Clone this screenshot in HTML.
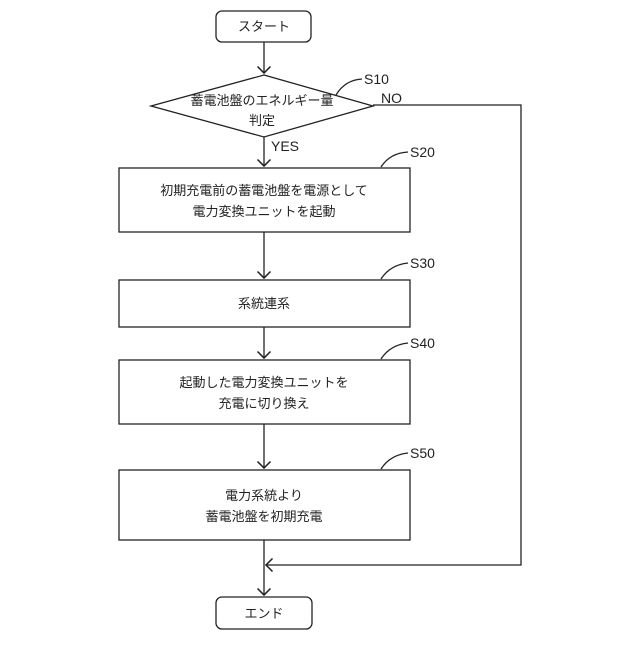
<!DOCTYPE html>
<html><head><meta charset="utf-8"><style>
html,body{margin:0;padding:0;background:#fff}
svg text{font-family:"Liberation Sans","Noto Sans CJK JP",sans-serif;fill:#222}
</style></head><body>
<svg width="640" height="640" viewBox="0 0 640 640" xmlns="http://www.w3.org/2000/svg">
<defs><marker id="a" markerWidth="12" markerHeight="12" refX="6" refY="6" orient="auto"><path d="M1,1 L6,6 L1,11" fill="none" stroke="#222" stroke-width="1.2"/></marker></defs>
<g fill="none" stroke="#222" stroke-width="1.3">
<rect x="216" y="11" width="95" height="31" rx="6"/>
<path d="M264 42 V73" marker-end="url(#a)"/>
<polygon points="264,75 373,106 264,137 151,106"/>
<path d="M264 137 V166" marker-end="url(#a)"/>
<path d="M373 105 H521 V565 H266" marker-end="url(#a)"/>
<rect x="119" y="168" width="291" height="64"/>
<path d="M264 232 V278" marker-end="url(#a)"/>
<rect x="119" y="280" width="291" height="47"/>
<path d="M264 327 V358" marker-end="url(#a)"/>
<rect x="119" y="360" width="291" height="64"/>
<path d="M264 424 V468" marker-end="url(#a)"/>
<rect x="119" y="470" width="291" height="70"/>
<path d="M264 540 V595" marker-end="url(#a)"/>
<rect x="216" y="597" width="96" height="32" rx="6"/>
<path d="M336 95 Q345 80 362 79"/>
<path d="M381 167 Q390 153 408 152"/>
<path d="M381 279 Q390 265 408 263"/>
<path d="M381 359 Q390 345 408 343"/>
<path d="M381 469 Q390 455 408 453"/>
</g>
<g font-size="13" text-anchor="middle">
<text x="264" y="31">スタート</text>
<text x="262" y="105">蓄電池盤のエネルギー量</text>
<text x="262" y="125">判定</text>
<text x="264" y="195">初期充電前の蓄電池盤を電源として</text>
<text x="264" y="216">電力変換ユニットを起動</text>
<text x="264" y="308">系統連系</text>
<text x="264" y="387">起動した電力変換ユニットを</text>
<text x="264" y="408">充電に切り換え</text>
<text x="264" y="500">電力系統より</text>
<text x="264" y="521">蓄電池盤を初期充電</text>
<text x="264" y="618">エンド</text>
</g>
<g font-size="14">
<text x="364" y="84">S10</text>
<text x="381" y="103">NO</text>
<text x="271" y="151">YES</text>
<text x="410" y="157">S20</text>
<text x="410" y="268">S30</text>
<text x="410" y="348">S40</text>
<text x="410" y="458">S50</text>
</g>
</svg>
</body></html>
